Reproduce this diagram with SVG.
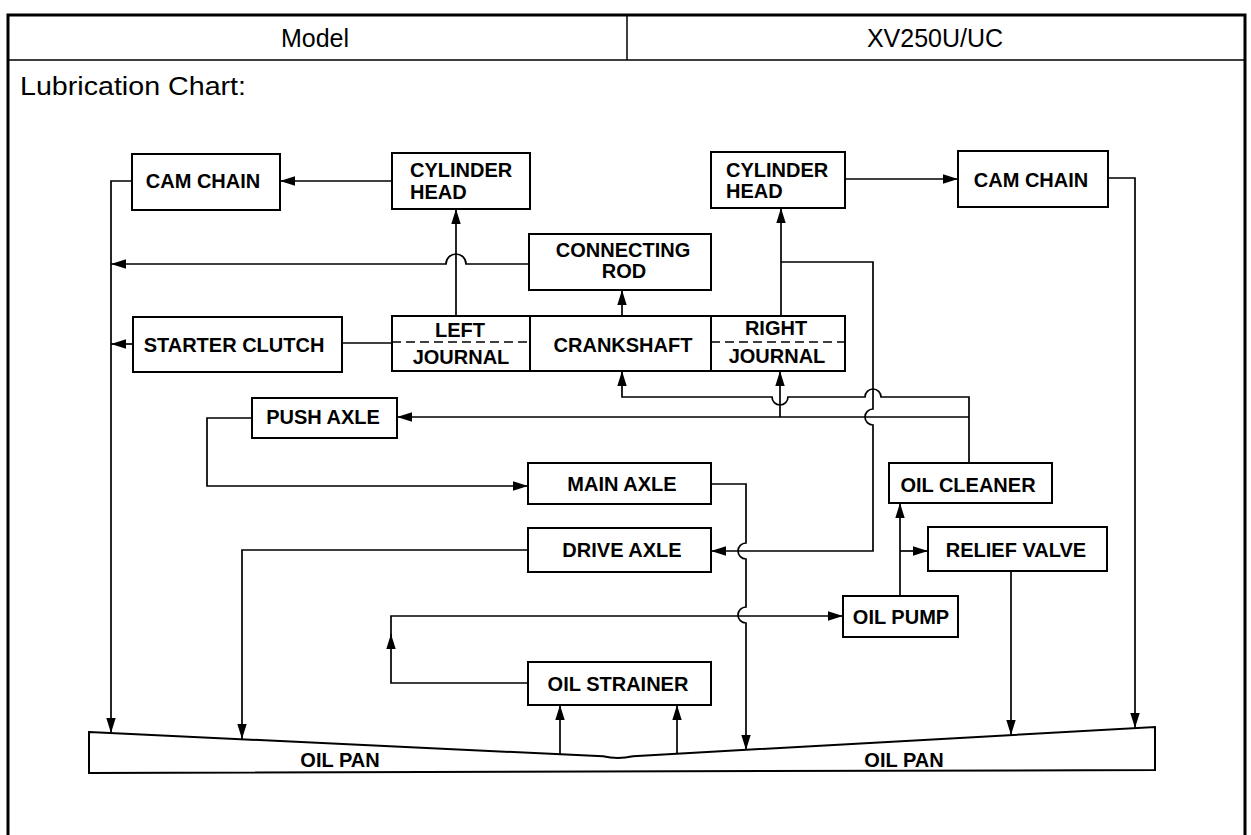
<svg xmlns="http://www.w3.org/2000/svg" width="1251" height="835" viewBox="0 0 1251 835">
<defs>
<marker id="ah" markerUnits="userSpaceOnUse" markerWidth="15" markerHeight="10" viewBox="0 0 15 10" refX="15" refY="5" orient="auto">
<path d="M0,0.3 L15,5 L0,9.7 z" fill="#000"/>
</marker>
</defs>
<style>
.box{fill:#fff;stroke:#000;stroke-width:2}
.ln{fill:none;stroke:#000;stroke-width:1.7}
.dash{fill:none;stroke:#000;stroke-width:1.5;stroke-dasharray:9 5}
.arr{marker-end:url(#ah)}
.lbl{font-family:"Liberation Sans",Arial,sans-serif;font-weight:bold;font-size:20px;fill:#000}
.hd{font-family:"Liberation Sans",Arial,sans-serif;font-size:25px;fill:#000}
.mid{text-anchor:middle}
.frame{fill:none;stroke:#000}
</style>
<rect width="1251" height="835" fill="#fff"/>
<g id="frame">
<path class="frame" stroke-width="3" d="M8,835 V15 H1245 V835"/>
<path class="frame" stroke-width="1.5" d="M8,60 H1245 M627,15 V60"/>
<text class="hd mid" x="315" y="47">Model</text>
<text class="hd mid" x="935" y="47">XV250U/UC</text>
<text class="hd" x="20" y="95" textLength="226" lengthAdjust="spacingAndGlyphs">Lubrication Chart:</text>
</g>
<g id="connectors">
<path class="ln arr" d="M392,181 H280"/>
<path class="ln arr" d="M456,316 V209"/>
<path class="ln arr" d="M622,315 V290"/>
<path class="ln arr" d="M529,264 H466 A10,10 0 0 0 446,264 H111"/>
<path class="ln arr" d="M132,181 H111 V733"/>
<path class="ln arr" d="M133,344 H111"/>
<path class="ln" d="M392,343 H342"/>
<path class="ln arr" d="M781,315 V208"/>
<path class="ln arr" d="M845,179 H958"/>
<path class="ln arr" d="M1108,178 H1135 V728"/>
<path class="ln arr" d="M781,262 H873 V409 A8,8 0 0 0 873,425 V551 H711"/>
<path class="ln arr" d="M969,463 V397 H881 A8,8 0 0 0 865,397 H788 A8,8 0 0 1 772,397 H622 V371"/>
<path class="ln arr" d="M969,417 H397"/>
<path class="ln arr" d="M780,417 V371"/>
<path class="ln arr" d="M252,418 H207 V486 H528"/>
<path class="ln arr" d="M711,484 H746 V543 A8,8 0 0 0 746,559 V607 A8,8 0 0 0 746,623 V750"/>
<path class="ln arr" d="M528,550 H242 V739"/>
<path class="ln arr" d="M528,683 H391 V634"/>
<path class="ln arr" d="M391,640 V616 H843"/>
<path class="ln arr" d="M560,754 V705"/>
<path class="ln arr" d="M677,754 V705"/>
<path class="ln arr" d="M900,596 V503"/>
<path class="ln arr" d="M900,551 H928"/>
<path class="ln arr" d="M1011,571 V735"/>
</g>
<g id="cam-chain-left">
<rect class="box" x="132" y="154" width="148" height="56"/>
<text class="lbl mid" x="203" y="188">CAM CHAIN</text>
</g>
<g id="cylinder-head-left">
<rect class="box" x="392" y="153" width="138" height="56"/>
<text class="lbl" x="410" y="177">CYLINDER</text>
<text class="lbl" x="410" y="199">HEAD</text>
</g>
<g id="connecting-rod">
<rect class="box" x="529" y="234" width="182" height="56"/>
<text class="lbl mid" x="623" y="257">CONNECTING</text>
<text class="lbl mid" x="624" y="278">ROD</text>
</g>
<g id="starter-clutch">
<rect class="box" x="133" y="317" width="209" height="55"/>
<text class="lbl mid" x="234" y="352">STARTER CLUTCH</text>
</g>
<g id="left-journal">
<rect class="box" x="392" y="316" width="138" height="55"/>
<path class="dash" d="M392,342 H530"/>
<text class="lbl mid" x="460" y="337">LEFT</text>
<text class="lbl mid" x="461" y="364">JOURNAL</text>
</g>
<g id="crankshaft">
<rect class="box" x="530" y="316" width="181" height="55"/>
<text class="lbl mid" x="623" y="352">CRANKSHAFT</text>
</g>
<g id="right-journal">
<rect class="box" x="711" y="316" width="134" height="55"/>
<path class="dash" d="M711,342 H845"/>
<text class="lbl mid" x="776" y="335">RIGHT</text>
<text class="lbl mid" x="777" y="363">JOURNAL</text>
</g>
<g id="cylinder-head-right">
<rect class="box" x="711" y="152" width="134" height="56"/>
<text class="lbl" x="726" y="177">CYLINDER</text>
<text class="lbl" x="726" y="198">HEAD</text>
</g>
<g id="cam-chain-right">
<rect class="box" x="958" y="151" width="150" height="56"/>
<text class="lbl mid" x="1031" y="187">CAM CHAIN</text>
</g>
<g id="push-axle">
<rect class="box" x="252" y="398" width="145" height="40"/>
<text class="lbl mid" x="323" y="424">PUSH AXLE</text>
</g>
<g id="main-axle">
<rect class="box" x="528" y="463" width="183" height="41"/>
<text class="lbl mid" x="622" y="491">MAIN AXLE</text>
</g>
<g id="drive-axle">
<rect class="box" x="528" y="528" width="183" height="44"/>
<text class="lbl mid" x="622" y="557">DRIVE AXLE</text>
</g>
<g id="oil-cleaner">
<rect class="box" x="889" y="463" width="163" height="40"/>
<text class="lbl mid" x="968" y="492">OIL CLEANER</text>
</g>
<g id="relief-valve">
<rect class="box" x="928" y="527" width="179" height="44"/>
<text class="lbl mid" x="1016" y="557">RELIEF VALVE</text>
</g>
<g id="oil-pump">
<rect class="box" x="843" y="596" width="115" height="41"/>
<text class="lbl mid" x="901" y="624">OIL PUMP</text>
</g>
<g id="oil-strainer">
<rect class="box" x="528" y="662" width="183" height="43"/>
<text class="lbl mid" x="618" y="691">OIL STRAINER</text>
</g>
<g id="oil-pan">
<path class="box" stroke-width="1.6" d="M89,732 L603,756.3 Q618,759.5 633,756.2 L1155,727 V770 L89,773 Z"/>
<text class="lbl mid" x="340" y="767">OIL PAN</text>
<text class="lbl mid" x="904" y="767">OIL PAN</text>
</g>
</svg>
